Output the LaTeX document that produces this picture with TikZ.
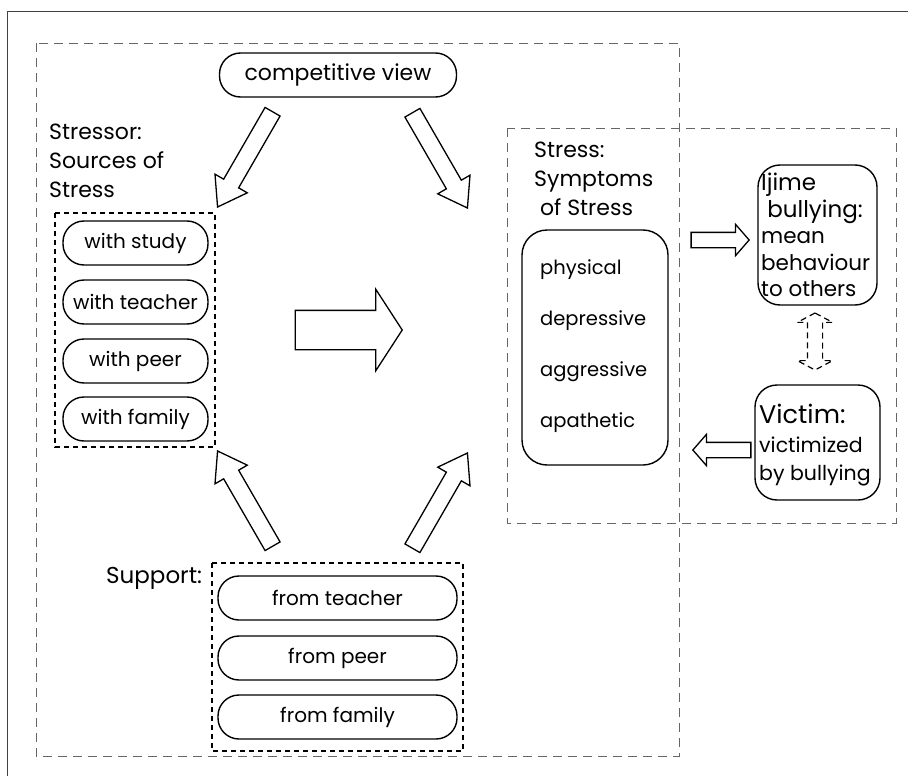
\documentclass[tikz,border=0pt]{standalone}
\usepackage{fontspec}
\setmainfont{Poppins}
\usetikzlibrary{shapes.arrows}

\newcommand\pillfont{\fontsize{20}{24}\selectfont}
\newcommand\headfont{\fontsize{22}{29}\selectfont}
\newcommand\bigfont{\fontsize{23}{26}\selectfont}
\newcommand\victimfont{\fontsize{25.5}{28}\selectfont}

\tikzset{
  pill/.style      = {draw = black, line width = 1.4pt, rounded corners = 21pt,
                      minimum height = 44pt, inner sep = 0pt, font = \pillfont},
  roundbox/.style  = {draw = black, line width = 1.4pt, rounded corners = 22pt, inner sep = 0pt},
  headtext/.style  = {font = \headfont, align = left, inner sep = 0pt},
  groupbox/.style  = {draw = black, line width = 1.5pt, dash pattern = on 5pt off 4pt},
  areabox/.style   = {draw = black!60, line width = 0.9pt, dash pattern = on 9pt off 6pt},
  fatarrow/.style  = {shape = single arrow, draw = black, line width = 1.3pt,
                      inner sep = 0pt, anchor = tip},
  slimarrow/.style = {fatarrow, minimum height = 110pt, inner ysep = 8pt,
                      single arrow head extend = 10pt, single arrow tip angle = 69},
  bigarrow/.style  = {fatarrow, minimum height = 107pt, inner ysep = 19pt,
                      single arrow head extend = 21pt, single arrow tip angle = 114},
  smallarrow/.style= {fatarrow, minimum height = 58pt, inner ysep = 7pt,
                      single arrow head extend = 8pt, single arrow tip angle = 98}
}

\begin{document}
\begin{tikzpicture}[x = 1pt, y = -1pt]
        \useasboundingbox (0, 0) rectangle (908, 776);

        % ------------------------------------------------------------------------
        % Frame and areas
        \draw[black!75, line width = 1pt] (7, 776) -- (7, 12) -- (908, 12);
        \draw[areabox] (36, 43) rectangle (679, 756);
        \draw[areabox] (507, 128) rectangle (896, 523);

        % ------------------------------------------------------------------------
        % Competitive view
        \node[pill, minimum width = 237pt, font = \fontsize{22}{26}\selectfont]
          at (338, 75) (cv) {competitive view};

        % ------------------------------------------------------------------------
        % Stressor
        \node[headtext, anchor = north west] at (49, 124) (stressor) {Stressor:\\Sources of\\Stress};

        \draw[groupbox] (55, 213) rectangle (215, 447);
        \node[pill, minimum width = 145pt] at (135.5, 243) (withstudy)   {with study};
        \node[pill, minimum width = 145pt] at (135.5, 302) (withteacher) {with teacher};
        \node[pill, minimum width = 145pt] at (135.5, 361) (withpeer)    {with peer};
        \node[pill, minimum width = 145pt] at (135.5, 419) (withfamily)  {with family};

        % ------------------------------------------------------------------------
        % Support
        \node[headtext, anchor = base west, font = \fontsize{23}{29}\selectfont]
          at (106, 583) (support) {Support:};

        \draw[groupbox] (212, 563) rectangle (463, 751);
        \node[pill, minimum width = 239pt] at (337.5, 598) (fromteacher) {from teacher};
        \node[pill, minimum width = 239pt] at (337.5, 658) (frompeer)    {from peer};
        \node[pill, minimum width = 239pt] at (337.5, 717) (fromfamily)  {from family};

        % ------------------------------------------------------------------------
        % Stress
        \node[headtext, anchor = north west] at (534, 142) (stress) {Stress:\\Symptoms\\\ of Stress};

        \node[roundbox, rounded corners = 25pt, minimum width = 146pt, minimum height = 235pt]
          at (595, 347.5) (symptoms) {};
        \node[anchor = north west, align = left, inner sep = 0pt, font = \fontsize{19.5}{51}\selectfont]
          at (540, 259) (symptomlist) {physical\\depressive\\aggressive\\apathetic};

        % ------------------------------------------------------------------------
        % Ijime and victim
        \node[roundbox, minimum width = 119pt, minimum height = 140pt] at (817.5, 235) (ijime) {};
        \node[anchor = north west, align = left, inner sep = 0pt, font = \fontsize{21.5}{26.5}\selectfont]
          at (761, 173) (ijimetext) {{\bigfont Ijime}\\{\bigfont\ bullying:}\\mean\\behaviour\\to others};

        \node[roundbox, minimum width = 125pt, minimum height = 115pt] at (817.5, 442.5) (victim) {};
        \node[anchor = north west, align = left, inner sep = 0pt, font = \fontsize{20.5}{28.5}\selectfont]
          at (759, 404) (victimtext) {{\victimfont Victim:}\\victimized\\by bullying};

        % ------------------------------------------------------------------------
        % Block arrows
        \node[slimarrow, rotate = 240] at (217, 208) (cvtostressor) {};
        \node[slimarrow, rotate = 300] at (468, 209) (cvtostress) {};
        \node[slimarrow, rotate = 120] at (217, 450) (supporttostressor) {};
        \node[slimarrow, rotate =  60] at (468, 452) (supporttostress) {};

        \node[bigarrow] at (403, 330) (stressortostress) {};

        \node[smallarrow] at (750, 240) (stresstoijime) {};
        \node[smallarrow, rotate = 180] at (692, 450) (victimtostress) {};

        \node[shape = double arrow, draw = black, line width = 1.2pt, dash pattern = on 6pt off 4pt,
              inner sep = 0pt, inner ysep = 7pt, minimum height = 57pt,
              double arrow head extend = 10pt, double arrow tip angle = 124, rotate = 90]
          at (815, 341.5) (ijimevictim) {};
      \end{tikzpicture}
\end{document}
